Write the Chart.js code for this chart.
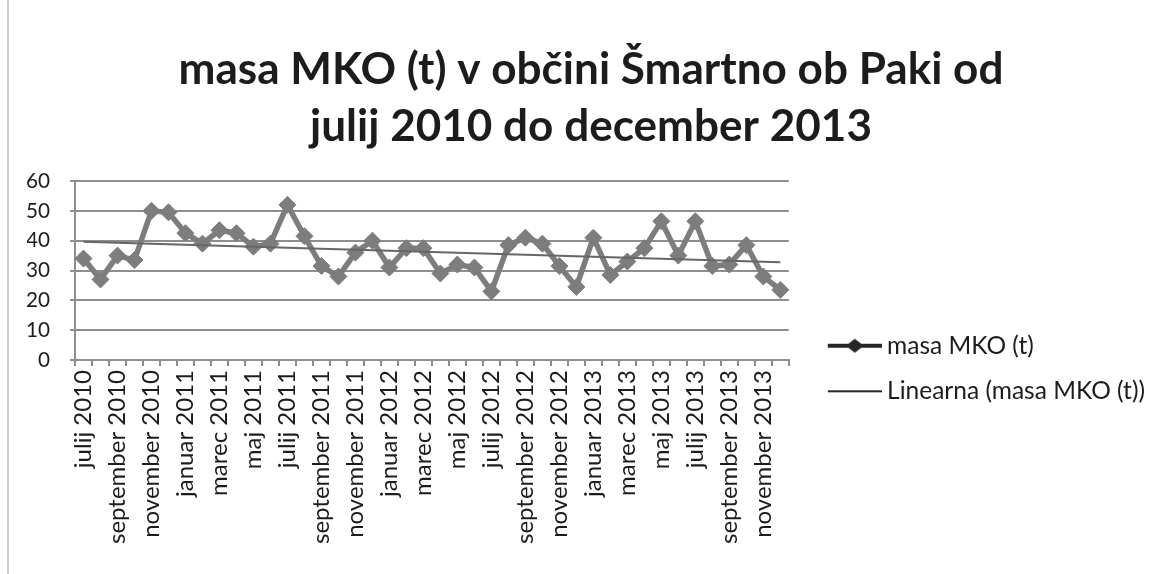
<!DOCTYPE html>
<html><head><meta charset="utf-8">
<script src="https://cdn.jsdelivr.net/npm/chart.js@4/dist/chart.umd.min.js"></script>
<style>
html,body{margin:0;padding:0;background:#fff;}
#wrap{position:relative;width:1163px;height:574px;}
</style></head><body>
<div id="wrap"><canvas id="c" width="1163" height="574"></canvas></div>
<script>
// ---- data ----
const months = ['julij 2010','avgust 2010','september 2010','oktober 2010','november 2010','december 2010',
 'januar 2011','februar 2011','marec 2011','april 2011','maj 2011','junij 2011','julij 2011','avgust 2011',
 'september 2011','oktober 2011','november 2011','december 2011',
 'januar 2012','februar 2012','marec 2012','april 2012','maj 2012','junij 2012','julij 2012','avgust 2012',
 'september 2012','oktober 2012','november 2012','december 2012',
 'januar 2013','februar 2013','marec 2013','april 2013','maj 2013','junij 2013','julij 2013','avgust 2013',
 'september 2013','oktober 2013','november 2013','december 2013'];
const massMKO = [34,27,35,33.5,50,49.5,42.5,39,43.5,42.5,38,39,52,41.5,31.5,28,36,40,31,37.5,37.5,29,32,31,23,
 38.5,41,39,31.5,24.5,41,28.5,33,37.5,46.5,35,46.5,31.5,32,38.5,28,23.5];
const yTicks = [0,10,20,30,40,50,60];
const titleLines = ['masa MKO (t) v občini Šmartno ob Paki od','julij 2010 do december 2013'];
const seriesName = 'masa MKO (t)';
const trendName = 'Linearna (masa MKO (t))';

// Excel-style linear trendline (least squares over the series)
function linearTrend(vals){
  const n = vals.length;
  let sx=0, sy=0, sxy=0, sxx=0;
  vals.forEach((v,i)=>{ sx+=i; sy+=v; sxy+=i*v; sxx+=i*i; });
  const slope = (n*sxy - sx*sy)/(n*sxx - sx*sx);
  const icpt = (sy - slope*sx)/n;
  return vals.map((_,i)=> icpt + slope*i);
}
const trend = linearTrend(massMKO);

// ---- styling helpers ----
const FAM = 'Lato';
const mctx = document.createElement('canvas').getContext('2d');
function fitSize(text, weight, target){
  mctx.font = weight + ' 100px ' + FAM;
  return 100 * target / mctx.measureText(text).width;
}
const titleSize = fitSize(titleLines[0], 'bold', 825);
const xSize = fitSize('september 2010', 'normal', 174);
const ySize = fitSize('60', 'normal', 24);
const legSize = fitSize(trendName, 'normal', 258);

const GRID = '#8e8e8e';
const SERIES = '#7d7d7d';
const TREND = '#666666';
const TXT = '#1c1c1c';

function legendImg(kind){
  const c = document.createElement('canvas');
  c.width = 79; c.height = 18;
  const g = c.getContext('2d');
  g.strokeStyle = '#262626'; g.fillStyle = '#262626';
  g.beginPath(); g.moveTo(25, 9); g.lineTo(79, 9);
  g.lineWidth = kind === 0 ? 4 : 2; g.stroke();
  if (kind === 0){
    g.beginPath(); g.moveTo(43, 9); g.lineTo(52, 2); g.lineTo(61, 9); g.lineTo(52, 16); g.closePath(); g.fill();
  }
  return c;
}
const legImgs = [legendImg(0), legendImg(1)];

const bgPlugin = {
  id: 'bg',
  beforeDraw(chart){
    const g = chart.ctx;
    g.save();
    g.fillStyle = '#fff'; g.fillRect(0,0,chart.width,chart.height);
    g.strokeStyle = '#cfcfcf'; g.lineWidth = 2;
    g.beginPath(); g.moveTo(8, 0); g.lineTo(8, chart.height); g.stroke();
    g.restore();
  }
};

new Chart(document.getElementById('c'), {
  type: 'line',
  data: {
    labels: months,
    datasets: [
      { label: seriesName, data: massMKO, borderColor: SERIES, backgroundColor: SERIES, borderWidth: 5.5,
        pointStyle: 'rectRot', pointRadius: 8.5, pointBorderWidth: 1, pointBackgroundColor: SERIES,
        pointBorderColor: SERIES, tension: 0, order: 1 },
      { label: trendName, data: trend, borderColor: TREND, backgroundColor: TREND, borderWidth: 2,
        pointRadius: 0, tension: 0, order: 0 }
    ]
  },
  options: {
    responsive: false, animation: false, devicePixelRatio: 1,
    layout: { padding: { left: 27, right: 8, top: 0, bottom: 26 } },
    plugins: {
      title: { display: true, text: titleLines, color: TXT,
        font: { family: FAM, weight: 'bold', size: titleSize, lineHeight: 57/titleSize },
        padding: { top: 41.5, bottom: 25.5 } },
      legend: { position: 'right', align: 'center', maxWidth: 420,
        title: { display: true, text: ' ', font: { size: 10, lineHeight: 1 }, padding: { top: 179, bottom: 0 } },
        labels: { usePointStyle: true, pointStyleWidth: 65, padding: 21, color: TXT,
          font: { family: FAM, size: legSize },
          generateLabels(chart){
            return chart.data.datasets.map((ds,i)=>({ text: ds.label, pointStyle: legImgs[i],
              fillStyle: ds.borderColor, strokeStyle: ds.borderColor, lineWidth: 0, hidden: false,
              datasetIndex: i, fontColor: TXT }));
          } } },
      tooltip: { enabled: false }
    },
    scales: {
      x: { offset: true,
        grid: { display: true, drawOnChartArea: false, drawTicks: true, tickLength: 6, offset: true, color: GRID, lineWidth: 2 },
        border: { color: GRID, width: 2 },
        ticks: { autoSkip: false, minRotation: 90, maxRotation: 90, padding: 4, color: TXT,
          font: { family: FAM, size: xSize },
          callback: (v, i) => (i % 2 === 0 ? months[i] : '') } },
      y: { min: yTicks[0], max: yTicks[yTicks.length-1],
        afterBuildTicks(scale){ scale.ticks = yTicks.map(v=>({value:v})); },
        afterFit(scale){ scale.width = 48; },
        grid: { color: GRID, lineWidth: 2, tickLength: 5 },
        border: { color: GRID, width: 2 },
        ticks: { padding: 20, color: TXT, font: { family: FAM, size: ySize } } }
    }
  },
  plugins: [bgPlugin]
});
</script>
</body></html>
